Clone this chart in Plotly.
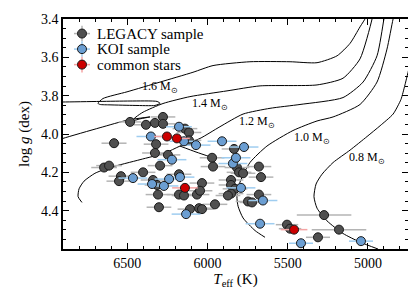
import plotly.graph_objects as go

# ---------------- data ----------------
# evolutionary tracks (Teff [K], log g [dex]); None separates pieces
track_08_teff = [4937, 5049, 5155, 5255, 5317, 5336, 5323, 5286, 5217, 5111, 5005, 4924, 4843, 4794, 4769, 4740, 4720]
track_08_logg = [4.600, 4.564, 4.519, 4.453, 4.387, 4.327, 4.261, 4.210, 4.149, 4.084, 4.013, 3.957, 3.896, 3.820, 3.744, 3.643, 3.55]

track_10_teff = [5641, 5703, 5778, 5809, 5816, 5797, 5735, 5629, 5467, 5317, 5217, 5049, 4943, 4881, 4843, 4825]
track_10_logg = [4.539, 4.504, 4.438, 4.377, 4.327, 4.251, 4.149, 4.063, 3.982, 3.932, 3.911, 3.846, 3.729, 3.557, 3.400, 3.34]

track_12_teff = [6782, 6806, 6800, 6769, 6701, 6607, 6420, 6264, 6171, 6046, 5922, 5778, 5610, 5423, 5155, 5030, 4943, 4900, 4887,
                 None, 6171, 6071, 5965]
track_12_logg = [4.357, 4.327, 4.286, 4.246, 4.205, 4.175, 4.134, 4.099, 4.063, 4.023, 3.962, 3.896, 3.866, 3.846, 3.810, 3.729, 3.592, 3.400, 3.339,
                 None, 4.063, 4.094, 4.124]

track_14_teff = [6950, 6900, 6669, 6495, 6358, 6420, 6470, 6445, 6401, 6277, 6109, 5878, 5672, 5317, 5155, 5049, 4974, 4962]
track_14_logg = [4.038, 4.023, 3.967, 3.927, 3.911, 3.921, 3.932, 3.911, 3.886, 3.841, 3.805, 3.775, 3.749, 3.744, 3.709, 3.608, 3.400, 3.339]

track_16_teff = [6950, 6900, 6669, 6482, 6314, 6295, 6327, 6451, 6607, 6669, 6682, 6651, 6501, 6295, 6090, 5965, 5735, 5485, 5317, 5192, 5111, 5049, 5012, 4999]
track_16_logg = [3.833, 3.833, 3.830, 3.828, 3.830, 3.840, 3.851, 3.851, 3.848, 3.846, 3.840, 3.815, 3.780, 3.729, 3.678, 3.643, 3.623, 3.623, 3.628, 3.592, 3.527, 3.441, 3.390, 3.339]

track_names = ["0.8", "1.0", "1.2", "1.4", "1.6"]
track_label_teff = [5005, 5348, 5691, 5984, 6295]
track_label_logg = [4.124, 4.023, 3.937, 3.846, 3.754]

# LEGACY sample
legacy_teff = [6482, 6582, 6644, 6613, 6539, 6551, 6383, 6327, 6277, 6277, 6140, 6115, 6115, 6320, 6327, 6246, 6295,
               5971, 5965, 5834, 5816, 5803, 5778, 5679, 5666, 6401, 6177, 6339, 6314, 6034, 5853, 5853, 5828, 5853,
               5872, 5679, 5747, 5722, 5953, 6046, 6308, 6177, 6146, 6065, 6046, 6302, 6109, 6052, 6034, 5504, 5485,
               5273, 5180, 5311]
legacy_logg = [3.937, 4.048, 4.175, 4.165, 4.220, 4.246, 3.952, 3.942, 3.911, 3.947, 3.972, 3.992, 4.033, 4.053, 4.099,
               4.109, 4.165, 4.124, 4.170, 4.078, 4.175, 4.200, 4.205, 4.170, 4.225, 4.200, 4.210, 4.240, 4.266, 4.256,
               4.240, 4.266, 4.286, 4.311, 4.321, 4.316, 4.352, 4.357, 4.367, 4.392, 4.316, 4.316, 4.321, 4.316, 4.296,
               4.382, 4.392, 4.387, 4.392, 4.473, 4.494, 4.423, 4.499, 4.539]
legacy_teff_err = [70, 78, 80, 80, 77, 78, 77, 77, 77, 77, 77, 77, 77, 77, 80, 77, 77,
                   77, 77, 77, 77, 77, 77, 77, 77, 77, 77, 77, 77, 77, 77, 77, 77, 77,
                   77, 77, 77, 77, 77, 77, 77, 77, 77, 77, 77, 77, 77, 77, 77, 70, 70,
                   170, 170, 75]

# KOI sample
koi_teff = [6464, 6177, 6352, 6146, 6071, 5909, 5772, 6221, 5841, 5822, 6239, 6171, 6345, 6271, 5791, 6133, 5654,
            5672, 5417, 5043]
koi_logg = [4.230, 3.962, 4.013, 4.038, 4.058, 4.038, 4.068, 4.134, 4.154, 4.124, 4.235, 4.225, 4.261, 4.271, 4.281,
            4.418, 4.347, 4.468, 4.570, 4.559]
koi_teff_err = [90, 80, 90, 90, 90, 90, 90, 90, 90, 90, 90, 90, 90, 90, 90, 90, 90, 90, 75, 75]

# common stars
com_teff = [6252, 6190, 6140, 5460]
com_logg = [4.013, 4.023, 4.281, 4.499]
com_teff_err = [80, 80, 80, 83]

legend_labels = ["LEGACY sample", "KOI sample", "common stars"]

# ---------------- style ----------------
FONT = "Liberation Serif"
legacy_fill, legacy_bar = "#505050", "#b4b4b4"
koi_fill, koi_bar = "#6b9ed2", "#9fcdf0"
com_fill, com_bar = "#cc0000", "#f4a4a4"

fig = go.Figure()

tracks = [(track_08_teff, track_08_logg), (track_10_teff, track_10_logg), (track_12_teff, track_12_logg),
          (track_14_teff, track_14_logg), (track_16_teff, track_16_logg)]
for t, g in tracks:
    fig.add_trace(go.Scatter(x=t, y=g, mode="lines", connectgaps=False,
                             line=dict(color="black", width=1, shape="spline", smoothing=0.6),
                             showlegend=False, hoverinfo="skip"))

def add_sample(teff, logg, err, fill, bar):
    fig.add_trace(go.Scatter(x=teff, y=logg, mode="markers",
                             error_x=dict(type="data", array=err, color=bar, thickness=1.5, width=0),
                             marker=dict(size=9, color=fill, line=dict(color="#1a1a1a", width=1)),
                             showlegend=False, hoverinfo="skip"))

add_sample(legacy_teff, legacy_logg, legacy_teff_err, legacy_fill, legacy_bar)
add_sample(koi_teff, koi_logg, koi_teff_err, koi_fill, koi_bar)
add_sample(com_teff, com_logg, com_teff_err, com_fill, com_bar)

for name, t, g in zip(track_names, track_label_teff, track_label_logg):
    fig.add_annotation(x=t, y=g, text=f"{name} M<sub>⊙</sub>", showarrow=False,
                       font=dict(family=FONT, size=12, color="black"))

# manual legend drawn on an overlay axis in plot-area pixel units
legend_y = [15, 31, 47]
for lab, ly, fill, bar in zip(legend_labels, legend_y,
                              [legacy_fill, koi_fill, com_fill], [legacy_bar, koi_bar, com_bar]):
    fig.add_trace(go.Scatter(x=[19], y=[ly], xaxis="x2", yaxis="y2", mode="markers",
                             error_x=dict(type="constant", value=8, color=bar, thickness=1.5, width=0),
                             error_y=dict(type="constant", value=8, color=bar, thickness=1.5, width=0),
                             marker=dict(size=9, color=fill, line=dict(color="#1a1a1a", width=1)),
                             showlegend=False, hoverinfo="skip"))
    fig.add_annotation(x=32, y=ly, xref="x2", yref="y2", text=lab, showarrow=False,
                       xanchor="left", yanchor="middle", font=dict(family=FONT, size=15, color="black"))

axis_common = dict(showline=True, linecolor="black", linewidth=1.5, mirror="allticks",
                   ticks="inside", ticklen=6, tickwidth=1, tickcolor="black",
                   showgrid=False, zeroline=False, ticklabeloverflow="allow",
                   tickfont=dict(family=FONT, size=14, color="black"))

# the page body adds an 8 px offset, so the figure is 8 px smaller on each axis
fig.update_layout(
    width=408, height=284,
    margin=dict(l=55, r=8, t=4, b=43),
    font=dict(family=FONT, color="black"),
    plot_bgcolor="white", paper_bgcolor="white",
    showlegend=False,
    xaxis=dict(range=[6900, 4750], tickvals=[6500, 6000, 5500, 5000],
               minor=dict(dtick=100, tick0=0, ticks="inside", ticklen=3, tickcolor="black", showgrid=False),
               title=dict(text="<i>T</i><sub>eff</sub> (K)", font=dict(family=FONT, size=15, color="black"), standoff=4),
               **axis_common),
    yaxis=dict(range=[4.6, 3.4], tickvals=[3.4, 3.6, 3.8, 4.0, 4.2, 4.4], tickformat=".1f",
               minor=dict(dtick=0.05, tick0=0, ticks="inside", ticklen=3, tickcolor="black", showgrid=False),
               title=dict(text="log <i>g</i> (dex)", font=dict(family=FONT, size=15, color="black"), standoff=8),
               **axis_common),
    xaxis2=dict(overlaying="x", anchor="y2", range=[0, 345], visible=False, fixedrange=True),
    yaxis2=dict(overlaying="y", anchor="x2", range=[237, 0], visible=False, fixedrange=True),
)

fig.write_html("out.html")
